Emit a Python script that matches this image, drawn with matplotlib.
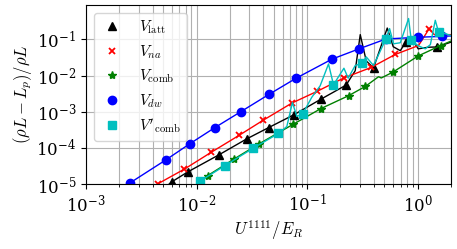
import matplotlib
matplotlib.use("Agg")
from matplotlib import pyplot as plt
from matplotlib.ticker import NullLocator, LogLocator

plt.rcParams["mathtext.fontset"] = "cm"
plt.rcParams["font.family"] = "serif"
plt.rcParams["font.serif"] = ["DejaVu Serif"]

# V_latt (black triangles)
latt_x = [0.00488, 0.0060, 0.00844, 0.0160, 0.0284, 0.0450, 0.0762, 0.133, 0.225, 0.272, 0.302,
          0.342, 0.398, 0.530, 0.600, 0.695, 0.782, 0.891, 1.01, 1.24, 1.49, 2.01]
latt_y = [6.8e-6, 1.16e-5, 2.21e-5, 6.46e-5, 1.77e-4, 3.66e-4, 8.3e-4, 2.22e-3, 5.46e-3, 1.37e-2, 0.136,
          2.56e-2, 1.63e-2, 0.207, 0.063, 0.049, 0.085, 0.099, 0.055, 0.061, 0.062, 0.085]
latt_mk = [1, 2, 3, 4, 5, 6, 7, 8, 12, 16, 20]

# V_na (red crosses)
na_x = [0.00404, 0.00449, 0.00776, 0.01352, 0.0243, 0.0402, 0.0731, 0.1225, 0.214, 0.379, 0.625,
        1.016, 1.27, 1.41, 2.01]
na_y = [7.7e-6, 1.02e-5, 2.58e-5, 7.49e-5, 2.23e-4, 5.86e-4, 1.75e-3, 3.64e-3, 8.57e-3, 1.68e-2, 3.84e-2,
        0.068, 0.200, 0.136, 0.136]
na_mk = [1, 2, 3, 4, 5, 6, 7, 8, 9, 10, 12]

# V_comb (green stars)
comb_x = [0.0093, 0.01262, 0.0220, 0.0370, 0.0743, 0.133, 0.237, 0.335, 0.442, 0.468, 0.594,
          1.01, 1.61, 2.01]
comb_y = [7.2e-6, 1.71e-5, 4.99e-5, 1.31e-4, 4.45e-4, 1.22e-3, 2.78e-3, 5.0e-3, 9.3e-3, 8.6e-3, 1.24e-2,
          3.5e-2, 6.8e-2, 9.1e-2]
comb_mk = [1, 2, 3, 4, 5, 6, 7, 10, 11, 12]

# V_dw (blue circles)
dw_x = [0.00212, 0.0025, 0.0053, 0.00873, 0.01469, 0.0251, 0.0450, 0.080, 0.1675, 0.296, 0.515,
        1.005, 1.67, 2.01]
dw_y = [6.8e-6, 1.07e-5, 4.68e-5, 1.31e-4, 3.66e-4, 1.0e-3, 3.0e-3, 8.57e-3, 2.85e-2, 5.53e-2, 0.103,
        0.115, 0.122, 0.125]
dw_mk = [1, 2, 3, 4, 5, 6, 7, 8, 9, 10, 11, 12]

# V'_comb (cyan squares)
combp_x = [0.0093, 0.0108, 0.0181, 0.0327, 0.0550, 0.0655, 0.0736, 0.0807, 0.0915, 0.110, 0.131,
           0.156, 0.173, 0.215, 0.235, 0.272, 0.313, 0.342, 0.398, 0.515, 0.556, 0.604, 0.695,
           0.826, 0.874, 1.01, 1.17, 1.30, 1.44, 1.54, 1.77, 2.01]
combp_y = [6.8e-6, 1.21e-5, 3.24e-5, 9.9e-5, 2.5e-4, 3.9e-4, 1.8e-3, 7.4e-4, 8.9e-4, 2.5e-3, 5.2e-3,
           2.1e-2, 5.6e-3, 1.6e-2, 8.5e-3, 1.9e-2, 2.2e-2, 3.3e-2, 1.9e-2, 0.103, 0.20, 0.076, 0.081,
           0.38, 0.094, 0.067, 0.055, 0.072, 0.34, 0.162, 0.145, 0.128]
combp_mk = [1, 2, 3, 4, 8, 12, 16, 19, 24, 29]

series = [
    (latt_x, latt_y, latt_mk, "k", "^", 6, r"$V_{\rm latt}$"),
    (na_x, na_y, na_mk, "r", "x", 5, r"$V_{na}$"),
    (comb_x, comb_y, comb_mk, "g", "*", 6, r"$V_{\rm comb}$"),
    (dw_x, dw_y, dw_mk, "b", "o", 6, r"$V_{dw}$"),
    (combp_x, combp_y, combp_mk, "c", "s", 6, r"$V'_{\rm comb}$"),
]

fig = plt.figure(figsize=(4.57, 2.49), dpi=100)
ax = fig.add_axes([0.188, 0.261, 0.799, 0.719])
for xs, ys, mk, col, m, ms, lab in series:
    ax.plot(xs, ys, "-", color=col, lw=1.0)
    ax.plot(xs, ys, ls="none", marker=m, color=col, ms=ms, mew=1.3 if m == "x" else 1.0,
            markevery=mk, label=lab)

ax.set_xscale("log"); ax.set_yscale("log")
ax.set_xlim(1e-3, 2); ax.set_ylim(1e-5, 0.9)
ax.yaxis.set_major_locator(LogLocator(base=10, numticks=10))
ax.yaxis.set_minor_locator(NullLocator())
ax.grid(True, which="major", color="#b0b0b0", lw=0.8)
ax.grid(True, which="minor", axis="x", color="#b0b0b0", lw=0.8)
ax.tick_params(labelsize=12)
ax.set_xlabel(r"$U^{1111}/E_R$", fontsize=12, labelpad=2)
ax.set_ylabel(r"$(\rho L - L_p)/\rho L$", fontsize=12, labelpad=2)
ax.legend(loc="upper left", fontsize=11, handletextpad=1.0, labelspacing=0.45,
          handlelength=1.6, borderpad=0.4)
fig.savefig("out.png", dpi=100)
